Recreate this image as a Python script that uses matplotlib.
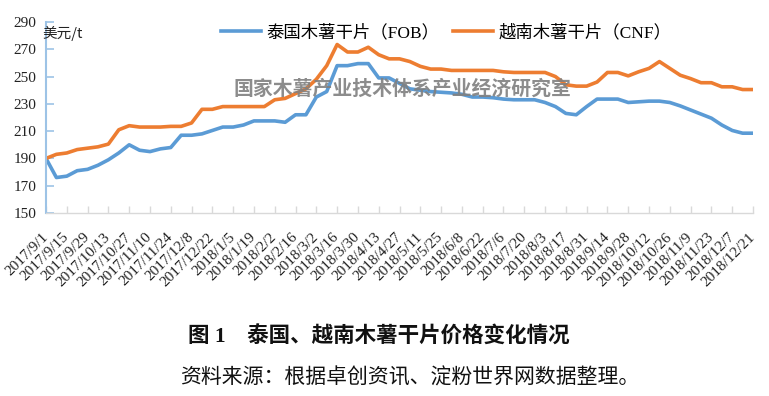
import matplotlib
matplotlib.use("Agg")
import matplotlib.pyplot as plt
import matplotlib.transforms as mtransforms
import datetime as dt

plt.rcParams['font.family'] = ['Noto Sans CJK SC', 'DejaVu Sans']

# weekly dates 2017/9/1 .. 2018/12/21
start = dt.date(2017, 9, 1)
dates = [start + dt.timedelta(days=7 * i) for i in range(69)]
tick_labels = [f"{d.year}/{d.month}/{d.day}" for d in dates[::2]]

thai_fob = [190, 176, 177, 181, 182, 185, 189, 194, 200, 196,
            195, 197, 198, 207, 207, 208, 210.5, 213, 213, 214.5,
            217.5, 217.5, 217.5, 216.5, 222, 222, 235, 239, 258, 258,
            259.5, 259.5, 249, 249, 245, 241, 240, 239, 238.5, 238,
            237, 235, 235, 234.5, 233.5, 233, 233, 233, 231, 228,
            223, 222, 228, 233.5, 233.5, 233.5, 231, 231.5, 232, 232,
            231, 228.5, 225.5, 222.5, 219.5, 214.5, 210.5, 208.5, 208.5]

viet_cnf = [190, 193, 194, 196.5, 197.5, 198.5, 200.5, 211, 214, 213,
            213, 213, 213.5, 213.5, 216, 226, 226, 228, 228, 228,
            228, 228, 233, 234, 237.5, 241, 248, 258, 273.5, 268,
            268, 271.5, 266, 263, 263, 261, 257.5, 255.5, 255.5, 254.5,
            254.5, 254.5, 254.5, 254.5, 253.5, 253, 253, 253, 253, 250,
            244, 243, 243, 246, 253, 253, 250.5, 253.5, 256, 261,
            256, 251, 248.5, 245.5, 245.5, 242.5, 242.5, 240.5, 240.5]

series_names = ["泰国木薯干片（FOB）", "越南木薯干片（CNF）"]
y_ticks = list(range(150, 291, 20))

BLUE = '#5B9BD5'
ORANGE = '#ED7D31'
AXBLUE = '#9DC3E6'
MIXED = ['Liberation Serif', 'Noto Sans CJK SC', 'DejaVu Sans']

fig = plt.figure(figsize=(7.69, 3.96), dpi=100)
W, H = 769, 396
ax = fig.add_axes([46 / W, 1 - 213 / H, 707 / W, 191 / H])

x = list(range(len(dates)))
ax.plot(x, thai_fob, color=BLUE, lw=2.6, label=series_names[0], solid_joinstyle='round')
ax.plot(x, viet_cnf, color=ORANGE, lw=2.6, label=series_names[1], solid_joinstyle='round')

ax.set_xlim(0, 68)
ax.set_ylim(150, 290)
ax.set_yticks(y_ticks)
ax.set_yticklabels([str(v) for v in y_ticks], fontfamily='Liberation Serif', fontsize=11)
ax.set_xticks(x[::2])
ax.set_xticklabels(tick_labels, fontfamily='Liberation Serif', fontsize=11,
                   rotation=45, ha='right', va='center', rotation_mode='anchor')
offset = mtransforms.ScaledTranslation(4 / 72, 0, fig.dpi_scale_trans)
for lab in ax.get_xticklabels():
    lab.set_transform(lab.get_transform() + offset)

for s in ['top', 'right']:
    ax.spines[s].set_visible(False)
ax.spines['left'].set_color(AXBLUE)
ax.spines['left'].set_linewidth(1.5)
ax.spines['bottom'].set_color('#D9D9D9')
ax.spines['bottom'].set_linewidth(1.0)
ax.tick_params(axis='y', direction='in', length=6, color=AXBLUE, width=1.2, pad=7, labelcolor='#222222')
ax.tick_params(axis='x', direction='in', length=5, color='#D9D9D9', width=1.0, pad=16, labelcolor='#222222')

leg = ax.legend(loc='center', bbox_to_anchor=((446 - 46) / 707, (213 - 33) / 191),
                ncol=2, frameon=False, prop={'family': MIXED, 'size': 12.5},
                handlelength=2.3, handletextpad=0.3, columnspacing=0.8, borderaxespad=0)

fig.text(42 / W, 1 - 33 / H, "美元/t", fontsize=10.5, ha='left', va='center', color='#222222')

fig.text(402 / W, 1 - 88 / H, "国家木薯产业技术体系产业经济研究室", fontsize=14.3,
         fontweight='bold', color='#808080', alpha=0.9, ha='center', va='center')

fig.text(188 / W, 1 - 337 / H, "图 1　泰国、越南木薯干片价格变化情况", fontsize=15.5,
         fontweight='bold', ha='left', va='center', color='#111111',
         family=MIXED)
fig.text(180 / W, 1 - 378 / H, "资料来源：根据卓创资讯、淀粉世界网数据整理。", fontsize=15,
         ha='left', va='center', color='#111111')

fig.savefig('out.png', dpi=100)
